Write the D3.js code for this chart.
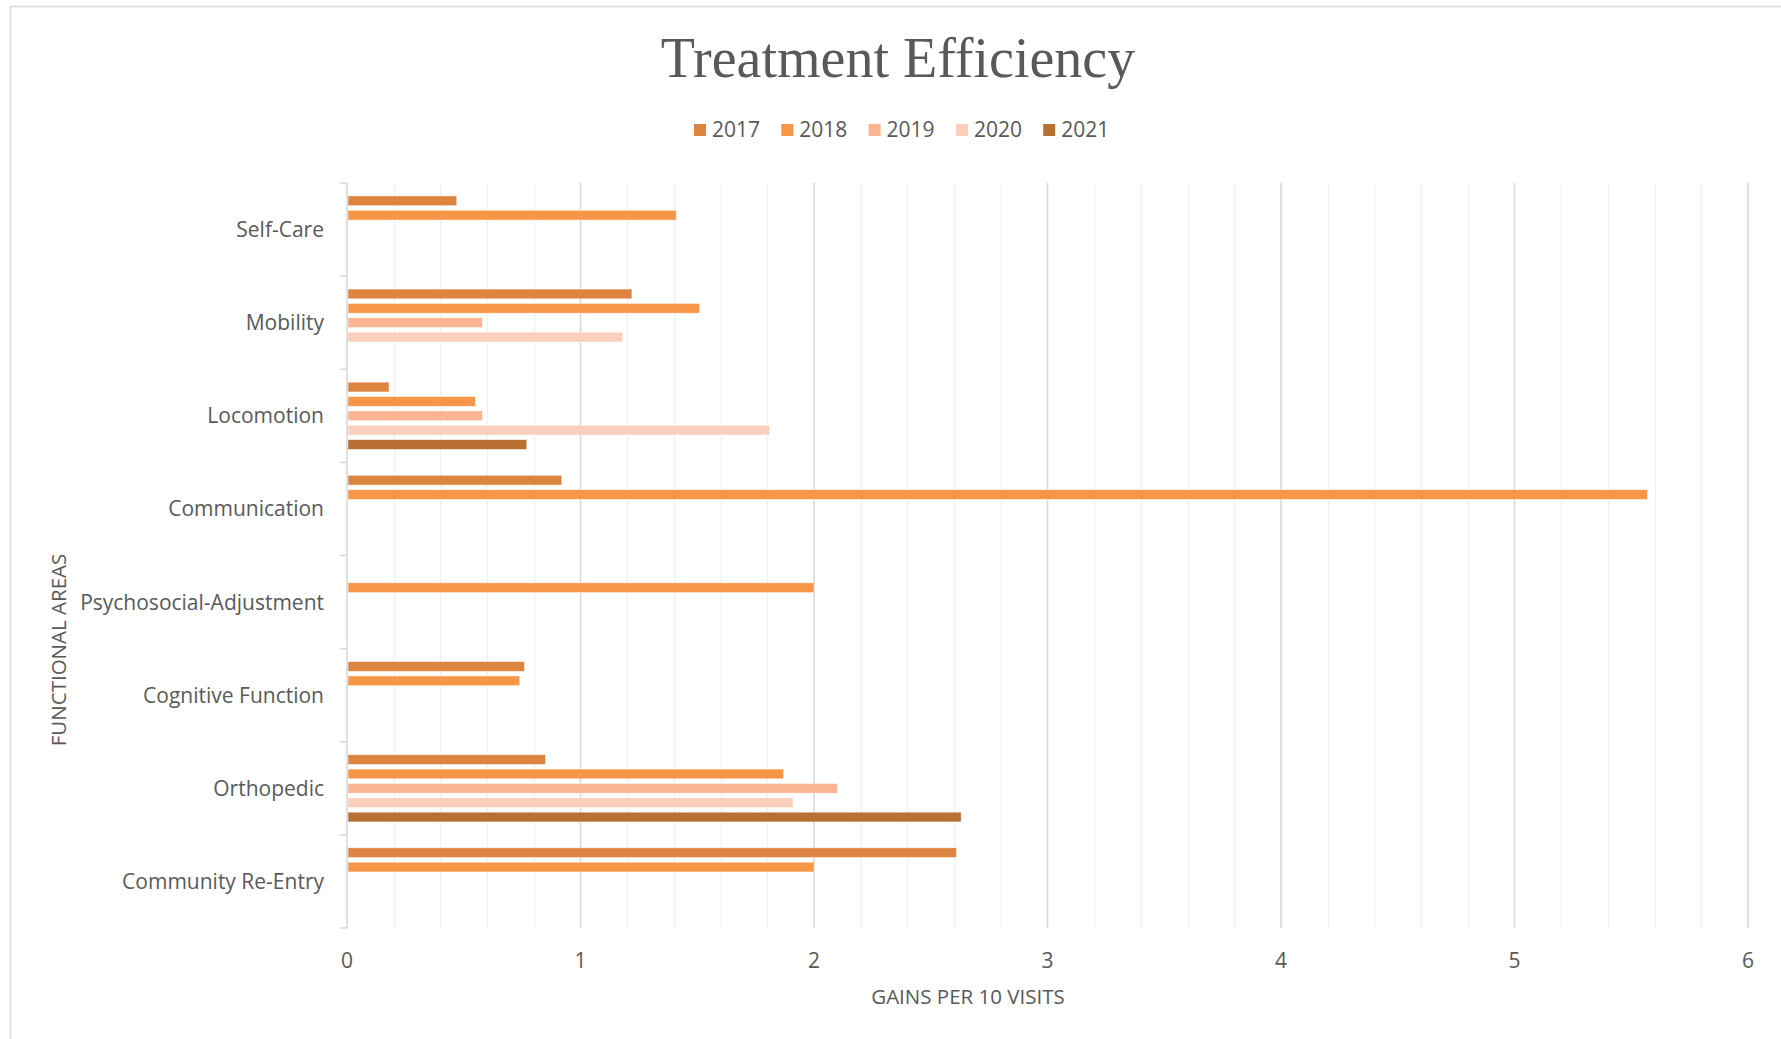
<!DOCTYPE html>
<html>
<head>
<meta charset="utf-8">
<script src="https://cdn.jsdelivr.net/npm/d3@7"></script>
<style>
  html, body { margin: 0; padding: 0; background: #ffffff; }
  svg { display: block; }
  text { fill: #595959; }
</style>
</head>
<body>
<script>
// Functional areas (top to bottom) and gains per 10 visits for each year
const categories = ["Self-Care", "Mobility", "Locomotion", "Communication",
  "Psychosocial-Adjustment", "Cognitive Function", "Orthopedic", "Community Re-Entry"];
const years = ["2017", "2018", "2019", "2020", "2021"];
const values2017 = [0.47, 1.22, 0.18, 0.92, null, 0.76, 0.85, 2.61];
const values2018 = [1.41, 1.51, 0.55, 5.57, 2.00, 0.74, 1.87, 2.00];
const values2019 = [null, 0.58, 0.58, null, null, null, 2.10, null];
const values2020 = [null, 1.18, 1.81, null, null, null, 1.91, null];
const values2021 = [null, null, 0.77, null, null, null, 2.63, null];
const xTicks = [0, 1, 2, 3, 4, 5, 6];

const seriesValues = [values2017, values2018, values2019, values2020, values2021];
const colors = ["#dc8440", "#f79646", "#f9b591", "#fbcfbb", "#b86f32"];

const W = 1781, H = 1039;
const plot = { left: 347, right: 1748, top: 183, bottom: 928 };
const font = "'Open Sans', 'Noto Sans', sans-serif";

const svg = d3.select("body").append("svg").attr("width", W).attr("height", H);

// chart frame
svg.append("path")
  .attr("d", `M10.5,${H} V6.5 H${W}`)
  .attr("fill", "none").attr("stroke", "#d9d9d9").attr("stroke-width", 1.5);

const x = d3.scaleLinear().domain([0, 6]).range([plot.left, plot.right]);
const y0 = d3.scaleBand().domain(categories).range([plot.top, plot.bottom]).padding(0);
const y1 = d3.scaleBand().domain(years).range([0, y0.bandwidth()])
  .paddingInner(0.32).paddingOuter(0.9);

// minor gridlines every 0.2
const minor = d3.range(1, 30).map(i => i * 0.2).filter(v => Math.abs(v - Math.round(v)) > 1e-6);
svg.append("g").selectAll("line").data(minor).join("line")
  .attr("x1", d => Math.round(x(d)) + 0.5).attr("x2", d => Math.round(x(d)) + 0.5)
  .attr("y1", plot.top).attr("y2", plot.bottom)
  .attr("stroke", "#f0f0f0").attr("stroke-width", 1.3);

// major gridlines
svg.append("g").selectAll("line").data(xTicks.filter(d => d > 0)).join("line")
  .attr("x1", d => x(d)).attr("x2", d => x(d))
  .attr("y1", plot.top).attr("y2", plot.bottom)
  .attr("stroke", "#d9d9d9").attr("stroke-width", 1.6);

// bars
const rows = [];
categories.forEach((c, i) => {
  years.forEach((yr, j) => {
    const v = seriesValues[j][i];
    if (v != null) rows.push({ category: c, year: yr, value: v, color: colors[j] });
  });
});
svg.append("g").selectAll("rect").data(rows).join("rect")
  .attr("x", x(0) + 1)
  .attr("y", d => y0(d.category) + y1(d.year))
  .attr("width", d => x(d.value) - x(0) - 1)
  .attr("height", y1.bandwidth())
  .attr("fill", d => d.color)
  .attr("stroke", "#ffffff").attr("stroke-opacity", 0.6).attr("stroke-width", 0.8);

// category axis line with boundary ticks
const boundaries = categories.map(c => y0(c)).concat([plot.bottom]);
const axisG = svg.append("g");
axisG.append("line")
  .attr("x1", plot.left).attr("x2", plot.left)
  .attr("y1", plot.top).attr("y2", plot.bottom)
  .attr("stroke", "#d9d9d9").attr("stroke-width", 1.6);
axisG.selectAll("line.tick").data(boundaries).join("line").attr("class", "tick")
  .attr("x1", plot.left - 7).attr("x2", plot.left)
  .attr("y1", d => d).attr("y2", d => d)
  .attr("stroke", "#d9d9d9").attr("stroke-width", 1.6);

// category labels
svg.append("g").selectAll("text").data(categories).join("text")
  .attr("x", 324)
  .attr("y", d => y0(d) + y0.bandwidth() / 2 + 7.5)
  .attr("text-anchor", "end")
  .style("font-family", font).style("font-size", "21px")
  .text(d => d);

// value axis tick labels
svg.append("g").selectAll("text").data(xTicks).join("text")
  .attr("x", d => x(d)).attr("y", 968)
  .attr("text-anchor", "middle")
  .style("font-family", font).style("font-size", "21px")
  .text(d => d);

// axis titles
svg.append("text")
  .attr("x", 968).attr("y", 1004)
  .attr("text-anchor", "middle")
  .style("font-family", font).style("font-size", "20.5px")
  .text("GAINS PER 10 VISITS");

svg.append("text")
  .attr("transform", "translate(66,650) rotate(-90)")
  .attr("text-anchor", "middle")
  .style("font-family", font).style("font-size", "20.5px")
  .text("FUNCTIONAL AREAS");

// title
svg.append("text")
  .attr("x", 898).attr("y", 77)
  .attr("text-anchor", "middle")
  .style("font-family", "'Liberation Serif', 'DejaVu Serif', serif")
  .style("font-size", "56px")
  .text("Treatment Efficiency");

// legend
const legend = svg.append("g").selectAll("g").data(years).join("g")
  .attr("transform", (d, i) => `translate(${694 + i * 87.3},0)`);
legend.append("rect")
  .attr("x", 0).attr("y", 124).attr("width", 12).attr("height", 12)
  .attr("fill", (d, i) => colors[i]);
legend.append("text")
  .attr("x", 18).attr("y", 137)
  .style("font-family", font).style("font-size", "21px")
  .text(d => d);
</script>
</body>
</html>
